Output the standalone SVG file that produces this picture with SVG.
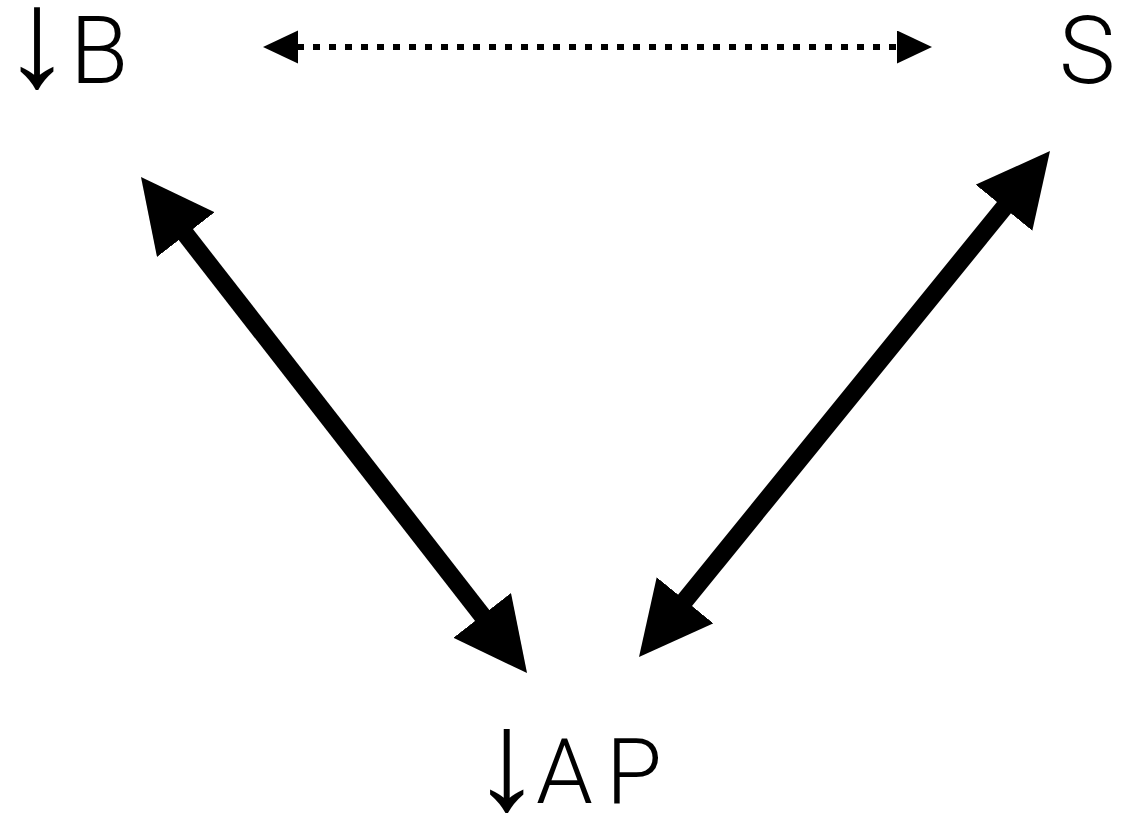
<svg xmlns="http://www.w3.org/2000/svg" width="1123" height="817" viewBox="0 0 1123 817">
<style>
.lbl{font-family:"Helvetica Neue",Roboto,"Liberation Sans",sans-serif;font-weight:300;fill:#000}
.thick{stroke:#000;stroke-width:18;fill:none}
.dot{stroke:#000;stroke-width:6;fill:none;stroke-dasharray:7 9}
</style>
<defs>
<marker id="bigHead" markerUnits="userSpaceOnUse" markerWidth="74" markerHeight="74" refX="1" refY="36.5" orient="auto-start-reverse" viewBox="0 0 74 74">
<path d="M0,0 L73,36.5 L0,73 z" fill="#000"/>
</marker>
<marker id="smallHead" markerUnits="userSpaceOnUse" markerWidth="36" markerHeight="34" refX="1" refY="16.5" orient="auto-start-reverse" viewBox="0 0 36 34">
<path d="M0,0 L35,16.5 L0,33 z" fill="#000"/>
</marker>
</defs>
<rect width="1123" height="817" fill="#fff"/>
<g id="connectors">
<line class="dot" x1="297" y1="47" x2="898" y2="47" marker-start="url(#smallHead)" marker-end="url(#smallHead)"/>
<line class="thick" x1="185.2" y1="233.8" x2="482.8" y2="616.2" marker-start="url(#bigHead)" marker-end="url(#bigHead)"/>
<line class="thick" x1="1004.6" y1="206.9" x2="684.4" y2="601.1" marker-start="url(#bigHead)" marker-end="url(#bigHead)"/>
</g>
<g id="node-B">
<text class="lbl" font-size="95" y="83"><tspan x="2" y="86" font-size="140" font-weight="400">↓</tspan><tspan x="70" y="83">B</tspan></text>
</g>
<g id="node-S">
<text class="lbl" font-size="95" x="1059" y="83">S</text>
</g>
<g id="node-AP">
<text class="lbl" font-size="91" y="803"><tspan x="471" y="809" font-size="142" font-weight="400">↓</tspan><tspan x="536" y="803">A</tspan><tspan x="606">P</tspan></text>
</g>
</svg>
